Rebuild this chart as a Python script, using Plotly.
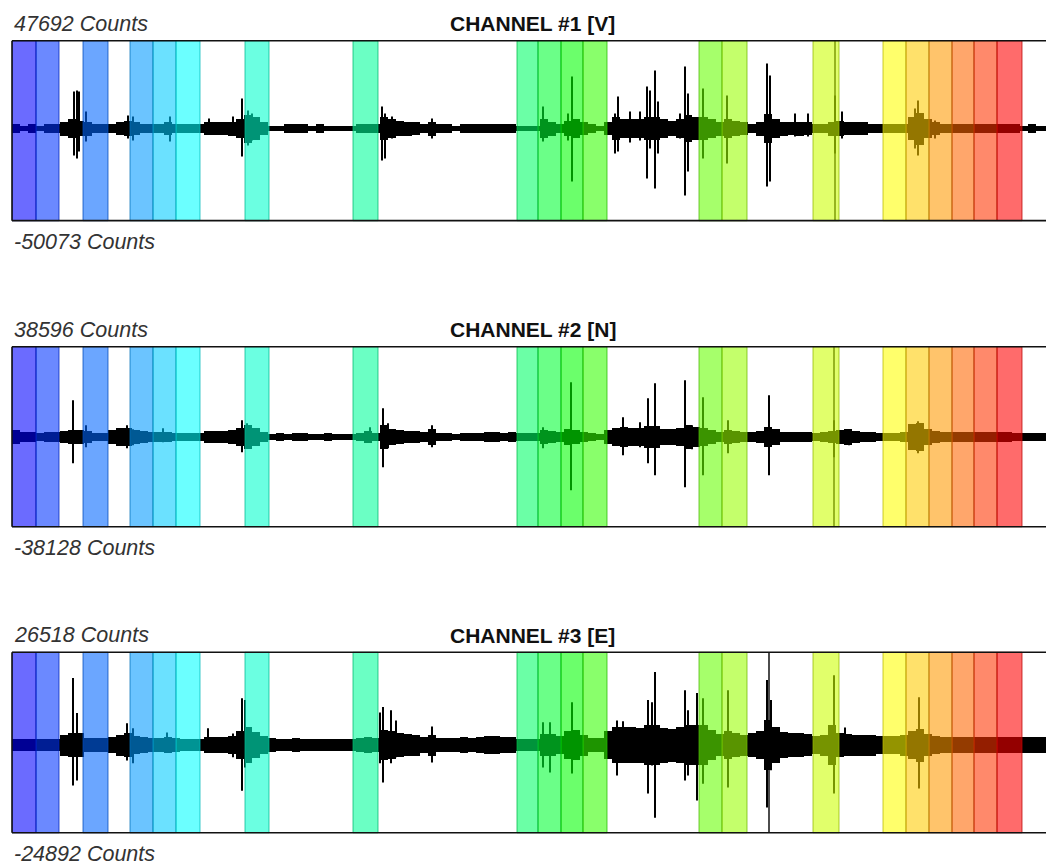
import colorsys
import plotly.graph_objects as go

# ---------------- data ----------------
# time in record units (0 = start of the window)
band_start = [0, 24, 71, 118, 141, 164, 233, 341, 505, 526, 549, 571, 687, 710, 801, 871, 894, 917, 940, 962, 985]
band_end = [24, 47, 96, 141, 164, 188, 257, 366, 526, 549, 571, 595, 710, 735, 827, 894, 917, 940, 962, 985, 1010]

channel_titles = ["CHANNEL #1 [V]", "CHANNEL #2 [N]", "CHANNEL #3 [E]"]
count_max = [47692, 38596, 26518]
count_min = [-50073, -38128, -24892]
t_end = 1034
env_step = 8  # envelope sampled every 8 time units

# background envelope (counts, +/-), one value per 8-unit block
ch1_env = [2200, 1600, 2200, 1600, 2200, 2200, 3800, 4900, 4300, 3800,
           2700, 2700, 2700, 3300, 4300, 3300, 2700, 2700, 2700, 3300,
           2700, 2200, 2700, 2700, 3300, 3300, 3300, 3800, 5400, 7600,
           6000, 3300, 1600, 1600, 2200, 2200, 2200, 1600, 2200, 1600,
           1600, 1600, 1600, 2200, 2700, 2200, 6500, 4900, 4300, 3800,
           3300, 2700, 3800, 2200, 2200, 1600, 2200, 2200, 2200, 2700,
           2700, 2200, 2200, 1600, 1600, 1600, 4900, 3800, 2700, 4300,
           4900, 3300, 2200, 1600, 3300, 6500, 5400, 4900, 4900, 6500,
           6500, 4900, 4300, 4900, 7100, 6000, 6500, 4900, 3800, 5400,
           4300, 3300, 2700, 3800, 8100, 5400, 3800, 3300, 3800, 3300,
           2700, 2700, 3800, 4300, 3300, 3300, 3300, 2700, 2200, 2200,
           2200, 2700, 6500, 8700, 4900, 3300, 2700, 2700, 2700, 2700,
           2700, 2700, 2700, 2700, 2200, 2200, 1600, 2200, 1600, 1600]
ch2_env = [3000, 2100, 2100, 1700, 2100, 2100, 2600, 3000, 3000, 2600,
           1700, 1700, 3000, 3800, 3800, 3000, 2600, 2100, 2100, 2100,
           1700, 1700, 1700, 1700, 2600, 2600, 2600, 3000, 3800, 5100,
           3800, 2100, 1300, 1700, 1300, 1700, 1700, 1300, 1300, 1700,
           1300, 1300, 1300, 1700, 2600, 1700, 5100, 3400, 3000, 2600,
           2600, 2100, 3400, 1700, 1700, 1300, 1700, 1700, 1700, 2100,
           2100, 1700, 2100, 1700, 1700, 1700, 3000, 2600, 2100, 3400,
           3000, 2100, 1700, 1300, 3000, 3800, 4300, 3800, 3800, 4700,
           4700, 3400, 3400, 3800, 5100, 4300, 3800, 3000, 2100, 3000,
           2600, 2100, 2100, 2600, 4300, 3400, 2100, 2100, 2100, 2100,
           1700, 2100, 2600, 3000, 3400, 2600, 2100, 2100, 1700, 1700,
           1700, 2100, 5500, 6000, 3400, 2600, 2100, 2100, 2100, 2100,
           2100, 2100, 2100, 2100, 2100, 1700, 1700, 1700, 1700, 1700]
ch3_env = [1700, 1700, 1700, 1700, 1700, 1700, 2900, 3400, 3400, 2000,
           2000, 2000, 2300, 2900, 3400, 2600, 2300, 2000, 2000, 2300,
           2000, 1700, 1700, 1700, 2300, 2300, 2300, 2600, 4000, 5100,
           3700, 2600, 2000, 1700, 1700, 2000, 1700, 1700, 1700, 1700,
           1700, 1700, 1700, 2000, 2300, 2000, 4300, 4000, 3400, 3100,
           2900, 2300, 2900, 2000, 2000, 2000, 2300, 2000, 2300, 2600,
           2600, 2300, 2300, 1700, 1700, 1700, 3100, 3100, 2600, 4000,
           4300, 2900, 2000, 2000, 4000, 5100, 5100, 5100, 4900, 5700,
           5700, 4900, 4600, 5100, 5700, 5700, 5700, 4300, 3100, 4000,
           3400, 2900, 3400, 4000, 7100, 5100, 3700, 3400, 3400, 3100,
           2600, 2900, 5700, 3400, 3100, 2900, 2900, 2900, 2600, 2600,
           2600, 2900, 4000, 4600, 3100, 2600, 2300, 2300, 2300, 2300,
           2300, 2300, 2300, 2300, 2300, 2300, 2300, 2300, 2300, 2300]

# individual peaks: time, positive peak, negative peak (counts)
ch1_spk_t = [62, 65, 67, 74, 116, 121, 158, 197, 221, 230, 236, 240, 370, 373, 380, 420,
             531, 556, 560, 603, 606, 618, 628, 635, 638, 643, 646, 668, 673, 676, 691,
             715, 755, 758, 783, 796, 823, 830, 903, 906, 923]
ch1_spk_up = [20100, 20600, 20100, 9200, 7100, 6500, 6500, 5400, 6500, 16300, 9800, 8100, 11900, 8100, 6500, 5400,
              11900, 8100, 28200, 8100, 17400, 9200, 9200, 22800, 20600, 31500, 14700, 8100, 33700, 19000, 21700,
              17900, 35300, 28800, 8100, 8100, 17900, 9200, 10900, 15200, 4300]
ch1_spk_dn = [14700, 16300, 12500, 7100, 5400, 6500, 7100, 3300, 3800, 15200, 9200, 6500, 17400, 16300, 5400, 5400,
              7100, 6500, 28800, 13600, 12500, 7600, 6500, 27200, 10900, 32600, 13600, 5400, 36400, 23300, 16300,
              19000, 31500, 28800, 4300, 4300, 13600, 5400, 10900, 14700, 5400]

ch2_spk_t = [61, 74, 115, 121, 151, 230, 235, 358, 371, 376, 420, 531, 559, 611, 628, 636, 643,
             673, 680, 691, 716, 757, 822, 837, 906]
ch2_spk_up = [15800, 5100, 5100, 3400, 3800, 7200, 6000, 4300, 12400, 6000, 5100, 4300, 23400, 8500, 6400, 16600, 23000,
              24300, 5100, 17000, 7200, 17900, 7200, 3400, 6800]
ch2_spk_dn = [11100, 4300, 4700, 3400, 2100, 6400, 4700, 2100, 12800, 4700, 4300, 4700, 22600, 7700, 4300, 11100, 16200,
              21300, 5100, 16200, 6800, 16200, 8500, 3400, 6800]

ch3_spk_t = [61, 65, 115, 121, 155, 196, 221, 230, 233, 368, 371, 379, 384, 420, 531, 538, 560,
             605, 611, 636, 640, 643, 673, 676, 685, 691, 716, 755, 759, 822, 833, 907]
ch3_spk_up = [19200, 9200, 6300, 4900, 3700, 4900, 3400, 13400, 12900, 9400, 10900, 10000, 7100, 5400, 6600, 6600, 12300,
              7100, 6900, 12900, 12300, 20900, 15700, 10000, 14900, 13400, 15700, 18600, 12900, 20000, 5100, 13700]
ch3_spk_dn = [11400, 10000, 4300, 5100, 1400, 1700, 3400, 12900, 6300, 5100, 10600, 5100, 3400, 4900, 6300, 7700, 8000,
              8600, 4300, 13700, 5700, 20600, 10000, 8600, 15700, 10900, 12000, 17700, 7100, 13700, 2900, 12300]

# full-scale glitch (reaches the channel's extreme counts)
glitch_t = [823, 822, 757]

envs = [ch1_env, ch2_env, ch3_env]
spk_t = [ch1_spk_t, ch2_spk_t, ch3_spk_t]
spk_up = [ch1_spk_up, ch2_spk_up, ch3_spk_up]
spk_dn = [ch1_spk_dn, ch2_spk_dn, ch3_spk_dn]

# ---------------- figure ----------------
W, H = 1046, 865
ML = 12
domains = [[0.7449, 0.9529], [0.3911, 0.5992], [0.0373, 0.2459]]
box_top_px = [40.7, 346.7, 652.3]
box_bot_px = [220.7, 526.7, 832.7]

fig = go.Figure()
layout = dict(
    width=W, height=H, margin=dict(l=ML, r=0, t=0, b=0),
    paper_bgcolor="white", plot_bgcolor="white", showlegend=False,
    barmode="overlay", bargap=0,
    shapes=[], annotations=[],
)

label_font = dict(family="Liberation Sans, Arial, sans-serif", size=21.5, color="#333333", style="italic")
nb = len(band_start)
for k in range(3):
    xa = "x" if k == 0 else f"x{k+1}"
    ya = "y" if k == 0 else f"y{k+1}"
    xname = "xaxis" if k == 0 else f"xaxis{k+1}"
    yname = "yaxis" if k == 0 else f"yaxis{k+1}"
    layout[xname] = dict(domain=[0, 1], range=[0, t_end], visible=False, anchor=ya, fixedrange=True)
    layout[yname] = dict(domain=domains[k], range=[count_min[k], count_max[k]], visible=False,
                         anchor=xa, fixedrange=True)

    env = envs[k]
    cx = [env_step * i + env_step / 2 for i in range(len(env))]
    fig.add_trace(go.Bar(x=cx, y=[2 * v for v in env], base=[-v for v in env],
                         width=env_step, xaxis=xa, yaxis=ya,
                         marker=dict(color="black", line=dict(width=0)), hoverinfo="skip"))
    sx, sy = [], []
    for t, u, d in zip(spk_t[k], spk_up[k], spk_dn[k]):
        sx += [t, t, None]
        sy += [-d, u, None]
    fig.add_trace(go.Scatter(x=sx, y=sy, xaxis=xa, yaxis=ya, mode="lines",
                             line=dict(color="black", width=2), hoverinfo="skip"))
    g = glitch_t[k]
    fig.add_trace(go.Scatter(x=[g, g], y=[count_min[k], count_max[k]], xaxis=xa, yaxis=ya,
                             mode="lines", line=dict(color="black", width=1.4), hoverinfo="skip"))

    # coloured windows
    for i in range(nb):
        hue = (240.0 * (1 - i / (nb - 1))) / 360.0
        r, gg, b = colorsys.hsv_to_rgb(hue, 1.0, 1.0)
        rl, gl, bl = colorsys.hsv_to_rgb(hue, 1.0, 0.72)
        layout["shapes"].append(dict(
            type="rect", xref=xa, yref=f"{ya} domain",
            x0=band_start[i], x1=band_end[i], y0=0, y1=1,
            fillcolor=f"rgba({int(r*255)},{int(gg*255)},{int(b*255)},0.58)",
            line=dict(color=f"rgba({int(rl*255)},{int(gl*255)},{int(bl*255)},0.75)", width=1),
            layer="above"))
    # frame (top, bottom, left)
    for (x0, y0, x1, y1) in [(0, 1, 1, 1), (0, 0, 1, 0), (0, 0, 0, 1)]:
        layout["shapes"].append(dict(
            type="line", xref=f"{xa} domain", yref=f"{ya} domain",
            x0=x0, y0=y0, x1=x1, y1=y1, line=dict(color="#111111", width=1.6), layer="above"))

    top_lab_y = 1 - (box_top_px[k] - 17) / H
    bot_lab_y = 1 - (box_bot_px[k] + 21) / H
    layout["annotations"].append(dict(
        xref="paper", yref="paper", x=0, y=top_lab_y, xanchor="left", yanchor="middle",
        text=f"{count_max[k]} Counts", showarrow=False, font=label_font))
    layout["annotations"].append(dict(
        xref="paper", yref="paper", x=0, y=bot_lab_y, xanchor="left", yanchor="middle",
        text=f"{count_min[k]} Counts", showarrow=False, font=label_font))
    layout["annotations"].append(dict(
        xref="paper", yref="paper", x=(532.5 - ML) / (W - ML), y=top_lab_y, xanchor="center", yanchor="middle",
        text=f"<b>{channel_titles[k]}</b>", showarrow=False,
        font=dict(family="Liberation Sans, Arial, sans-serif", size=21, color="#111111")))

fig.update_layout(**layout)
fig.write_html("out.html", config={"displayModeBar": False, "staticPlot": True},
               post_script="document.body.style.margin='0';document.body.style.overflow='hidden';")
